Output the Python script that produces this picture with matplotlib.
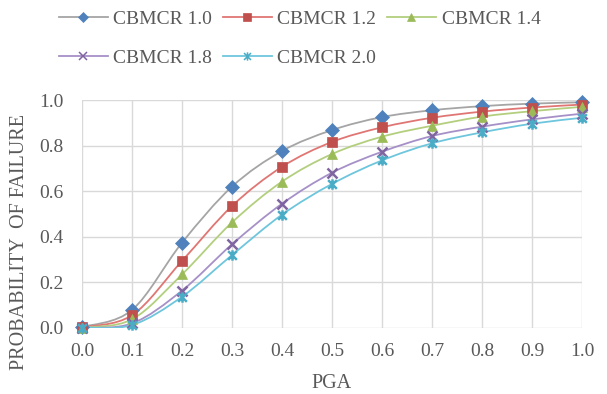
import numpy as np
import matplotlib
matplotlib.use('Agg')
import matplotlib.pyplot as plt
from matplotlib.path import Path
from matplotlib.patches import PathPatch
from matplotlib.lines import Line2D

pga = [0.0, 0.1, 0.2, 0.3, 0.4, 0.5, 0.6, 0.7, 0.8, 0.9, 1.0]
series_names = ['CBMCR 1.0', 'CBMCR 1.2', 'CBMCR 1.4', 'CBMCR 1.8', 'CBMCR 2.0']
pf_10 = [0.004, 0.079, 0.374, 0.620, 0.776, 0.868, 0.925, 0.955, 0.973, 0.984, 0.990]
pf_12 = [0.003, 0.056, 0.294, 0.535, 0.707, 0.816, 0.880, 0.922, 0.949, 0.967, 0.980]
pf_14 = [0.002, 0.038, 0.235, 0.463, 0.642, 0.763, 0.839, 0.887, 0.927, 0.951, 0.970]
pf_18 = [0.001, 0.020, 0.164, 0.367, 0.545, 0.681, 0.773, 0.842, 0.883, 0.915, 0.940]
pf_20 = [0.001, 0.013, 0.137, 0.320, 0.497, 0.632, 0.735, 0.810, 0.858, 0.896, 0.922]
all_pf = [pf_10, pf_12, pf_14, pf_18, pf_20]

line_colors = ['#A5A5A5', '#E07674', '#B3CF7E', '#A690C8', '#6EC6DD']
marker_colors = ['#4F81BD', '#C0504D', '#9BBB59', '#8064A2', '#4BACC6']
star = Path([(-1, -1), (1, 1), (-1, 1), (1, -1), (0, -1.2), (0, 1.2)],
            [Path.MOVETO, Path.LINETO, Path.MOVETO, Path.LINETO, Path.MOVETO, Path.LINETO])
markers = ['D', 's', '^', 'x', star]
msizes = [7, 7, 7.5, 7, 7.5]


def smooth_path(x, y):
    # excel-style smoothed line: bezier segments with catmull-rom control points
    pts = np.column_stack([x, y])
    n = len(pts)
    verts = [pts[0]]
    codes = [Path.MOVETO]
    for i in range(n - 1):
        p0 = pts[max(i - 1, 0)]
        p1 = pts[i]
        p2 = pts[i + 1]
        p3 = pts[min(i + 2, n - 1)]
        verts += [p1 + (p2 - p0) / 6.0, p2 - (p3 - p1) / 6.0, p2]
        codes += [Path.CURVE4] * 3
    return Path(verts, codes)


plt.rcParams['font.family'] = ['Liberation Serif', 'DejaVu Serif']
fig = plt.figure(figsize=(6.07, 3.94), dpi=100)
ax = fig.add_axes([82 / 607, 66 / 394, 500 / 607, 228 / 394])

handles = []
for num, pf in enumerate(all_pf):
    ax.add_patch(PathPatch(smooth_path(pga, pf), fill=False, edgecolor=line_colors[num],
                           lw=1.3, transform=ax.transData, zorder=2))
    if num >= 3:
        ax.plot(pga, pf, ls='none', marker=markers[num], ms=msizes[num], mfc='none',
                mec=marker_colors[num], mew=1.8, clip_on=False, zorder=3)
    else:
        ax.plot(pga, pf, ls='none', marker=markers[num], ms=msizes[num], mfc=marker_colors[num],
                mec=marker_colors[num], mew=0.5, clip_on=False, zorder=3)
    handles.append(Line2D([], [], color=line_colors[num], lw=1.3, marker=markers[num],
                          ms=msizes[num] * 0.8, mfc=marker_colors[num] if num < 3 else 'none',
                          mec=marker_colors[num], mew=1.1 if num >= 3 else 0.5))

ax.set_xlim(0, 1)
ax.set_ylim(0, 1)
ax.set_xticks(np.arange(0, 1.01, 0.1))
ax.set_yticks(np.arange(0, 1.01, 0.2))
ax.set_xticklabels(['%.1f' % v for v in np.arange(0, 1.01, 0.1)])
ax.set_yticklabels(['%.1f' % v for v in np.arange(0, 1.01, 0.2)])
ax.tick_params(axis='both', length=0, labelsize=14, labelcolor='#595959')
ax.tick_params(axis='x', pad=11)
ax.tick_params(axis='y', pad=13)
ax.grid(True, color='#D9D9D9', lw=1)
ax.set_axisbelow(True)
for s in ax.spines.values():
    s.set_visible(False)

fig.text(20 / 607, 1 - 242 / 394, 'PROBABILITY  OF FAILURE', rotation=90, ha='center',
         va='center', fontsize=14.5, color='#595959')
fig.text(331 / 607, 1 - 384 / 394, 'PGA', ha='center', va='center', fontsize=14.5, color='#595959')

order = [0, 3, 1, 4, 2]
leg = fig.legend([handles[i] for i in order], [series_names[i] for i in order], ncol=3,
                 loc='upper left', bbox_to_anchor=(59 / 607, 1 - 10 / 394), frameon=False,
                 fontsize=14, handlelength=2.5, handletextpad=0.3, columnspacing=0.55,
                 labelspacing=1.1, borderpad=0, borderaxespad=0)
for t in leg.get_texts():
    t.set_color('#595959')

fig.savefig('out.png', dpi=100)
